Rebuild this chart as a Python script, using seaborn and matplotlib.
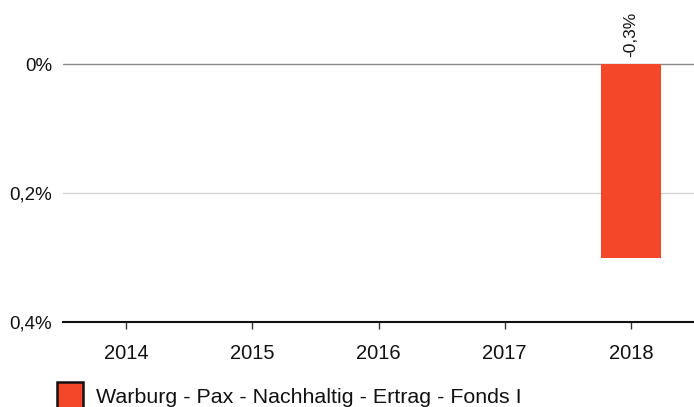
import matplotlib
matplotlib.use("Agg")
import matplotlib.pyplot as plt
from matplotlib.patches import Rectangle
import numpy as np
import pandas as pd
import seaborn as sns

# Annual performance of the fund (in percent); only 2018 is available
years = ["2014", "2015", "2016", "2017", "2018"]
returns = [np.nan, np.nan, np.nan, np.nan, -0.3]
series_name = "Warburg - Pax - Nachhaltig - Ertrag - Fonds I"
y_ticks = [0.0, -0.2, -0.4]
y_tick_labels = ["0%", "0,2%", "0,4%"]
bar_color = "#F4472A"

sns.set_theme(style="white")
plt.rcParams["font.family"] = ["Liberation Sans", "DejaVu Sans"]

df = pd.DataFrame({"Jahr": years, "Rendite": returns})

fig = plt.figure(figsize=(6.94, 4.07), dpi=100)
ax = fig.add_axes([63 / 694, 1 - 322 / 407, 1 - 63 / 694, 322 / 407])

sns.barplot(data=df, x="Jahr", y="Rendite", order=years, color=bar_color,
            saturation=1, width=0.47, ax=ax, linewidth=0)

ax.set_ylim(-0.4, 0.0993)
ax.set_xlim(-0.5, len(years) - 0.5)

# Reference lines
ax.axhline(0.0, color="#8a8a8a", linewidth=1, zorder=0)
ax.axhline(-0.2, color="#d4d4d4", linewidth=1, zorder=0)

for side in ["top", "right", "left"]:
    ax.spines[side].set_visible(False)
ax.spines["bottom"].set_color("#111111")
ax.spines["bottom"].set_linewidth(1.5)

ax.set_yticks(y_ticks)
ax.set_yticklabels(y_tick_labels, fontsize=13.5, color="#111111")
ax.tick_params(axis="y", length=0, pad=8)
ax.tick_params(axis="x", length=5, width=1, color="#333333", direction="out",
               labelsize=14.5, labelcolor="#111111", pad=11, bottom=True)
ax.set_xlabel("")
ax.set_ylabel("")

# Value labels above the zero line
for i, v in enumerate(returns):
    if not np.isnan(v):
        txt = f"{v:.1f}%".replace(".", ",")
        ax.annotate(txt, xy=(i, 0), xytext=(0, 5), textcoords="offset points",
                    rotation=90, ha="center", va="bottom", fontsize=12.5,
                    color="#111111")

# Legend below the chart
fig.patches.append(Rectangle((57 / 694, -2 / 407), 26 / 694, 27 / 407,
                             transform=fig.transFigure, facecolor=bar_color,
                             edgecolor="#111111", linewidth=1.8))
fig.text(96 / 694, 4 / 407, series_name, fontsize=15.4, color="#111111",
         ha="left", va="baseline")

fig.savefig("out.png", dpi=100)
